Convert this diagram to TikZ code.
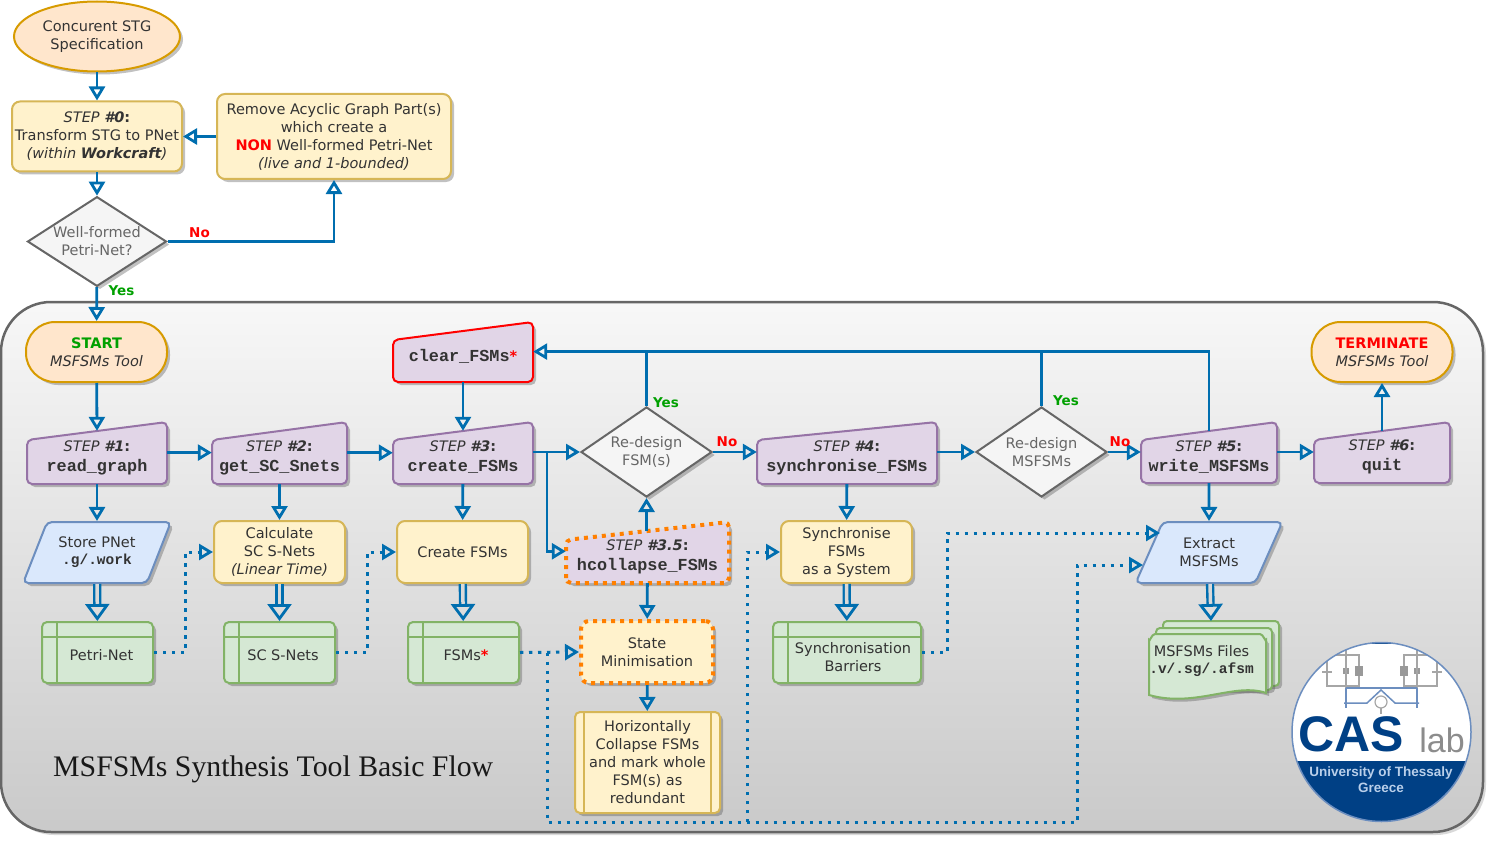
\documentclass[tikz,border=0pt]{standalone}
\usepackage{fontspec}
\setmainfont{DejaVu Sans}
\setmonofont{Liberation Mono}
\newfontfamily\titlefont{Liberation Serif}
\newfontfamily\logofont{Liberation Sans}
\usetikzlibrary{arrows.meta, shapes.geometric, shadows, calc}
\definecolor{flowblue}{HTML}{006EAF}
\definecolor{peachfill}{HTML}{FFE6CC}
\definecolor{peachline}{HTML}{D79B00}
\definecolor{sandfill}{HTML}{FFF2CC}
\definecolor{sandline}{HTML}{D6B656}
\definecolor{lilacfill}{HTML}{E1D5E7}
\definecolor{lilacline}{HTML}{9673A6}
\definecolor{skyfill}{HTML}{DAE8FC}
\definecolor{skyline}{HTML}{6C8EBF}
\definecolor{leaffill}{HTML}{D5E8D4}
\definecolor{leafline}{HTML}{82B366}
\definecolor{logoblue}{HTML}{004085}
\definecolor{yesgreen}{HTML}{00A000}
\definecolor{dotorange}{HTML}{FF8000}
\tikzset{
  softshadow/.style={drop shadow={shadow xshift=3pt, shadow yshift=-3pt, opacity=0.35, fill=black!70}},
  boxtext/.style={font=\fontsize{14.5}{18}\selectfont, text=black!80, align=center, inner sep=0pt},
  ovalbox/.style={boxtext, shape=ellipse, draw=peachline, fill=peachfill, line width=2pt, softshadow, minimum width=166pt, minimum height=70pt},
  pillbox/.style={boxtext, draw=peachline, fill=peachfill, line width=2pt, softshadow, rounded corners=29pt, minimum width=141pt, minimum height=60pt},
  sandbox/.style={boxtext, draw=sandline, fill=sandfill, line width=2pt, softshadow, rounded corners=8pt, minimum height=62pt},
  orangebox/.style={sandbox, draw=dotorange, line width=4pt, dash pattern=on 4pt off 5pt},
  choicebox/.style={boxtext, text=black!60, shape=diamond, draw=black!60, fill=black!4, line width=2pt, softshadow, minimum width=131pt, minimum height=90pt, aspect=1.45},
  filebox/.style={boxtext, draw=skyline, fill=skyfill, line width=2pt, softshadow, shape=trapezium, trapezium left angle=59, trapezium right angle=121, trapezium stretches=true, rounded corners=5pt, minimum width=148pt, minimum height=61pt},
  storebox/.style={draw=leafline, fill=leaffill, line width=2pt, softshadow, rounded corners=5pt, minimum height=61pt, inner sep=0pt,
    path picture={\draw[leafline, line width=2pt] ([xshift=15pt]path picture bounding box.north west) -- ([xshift=15pt]path picture bounding box.south west);
      \draw[leafline, line width=2pt] ([yshift=-15pt]path picture bounding box.north west) -- ([yshift=-15pt]path picture bounding box.north east);}},
  procbox/.style={sandbox, rounded corners=5pt, path picture={\draw[sandline, line width=2pt] ([xshift=9pt]path picture bounding box.north west) -- ([xshift=9pt]path picture bounding box.south west);
      \draw[sandline, line width=2pt] ([xshift=-9pt]path picture bounding box.north east) -- ([xshift=-9pt]path picture bounding box.south east);}},
  lilacshape/.style={draw=lilacline, fill=lilacfill, line width=2pt, softshadow, rounded corners=5pt},
  redshape/.style={lilacshape, draw=red},
  orangeshape/.style={lilacshape, draw=dotorange, line width=4pt, dash pattern=on 4pt off 5pt},
  flow/.style={draw=flowblue, line width=2.8pt, -{Triangle[open, length=14pt, width=16pt, line width=2.8pt]}},
  plainflow/.style={draw=flowblue, line width=2.8pt},
  dotflow/.style={flow, line width=3pt, dash pattern=on 3.4pt off 5.6pt},
  wideflow/.style={flow, double=white!85!black, double distance=3.5pt, line width=2.4pt, -{Triangle[open, length=17pt, width=24pt, line width=2.8pt]}},
  nolabel/.style={font=\fontsize{13.5}{16}\selectfont\bfseries, text=red, inner sep=0pt},
  yeslabel/.style={nolabel, text=yesgreen},
  logoline/.style={draw=black!35, line width=1.2pt},
  logowire/.style={draw=skyline, line width=1.5pt},
}
\newcommand{\tool}[1]{{\fontsize{16.8}{20}\selectfont\ttfamily\bfseries #1}}
\newcommand{\filename}[1]{{\fontsize{14.5}{16}\selectfont\ttfamily\bfseries #1}}
\newcommand{\stepname}[1]{\textit{STEP} \textbf{\textit{#1}:}}
\newcommand{\manualnode}[7][lilacshape]{%
  \draw[#1] (#3,#6) -- (#3,#4+18) -- (#5,#4) -- (#5,#6) -- cycle;
  \pgfmathsetmacro{\boxw}{#5-#3}
  \pgfmathsetmacro{\boxh}{#6-#4-9}
  \node[boxtext, minimum width=\boxw pt, minimum height=\boxh pt] (#2) at ({(#3+#5)/2},{(#4+9+#6)/2}) {#7};
}
\begin{document}
\begin{tikzpicture}[x=1pt, y=-1pt]
  \useasboundingbox (0,0) rectangle (1497,848);
  \draw[draw=black!60, line width=2.5pt, top color=black!3, bottom color=black!21, rounded corners=50pt, drop shadow={shadow xshift=3pt, shadow yshift=-3pt, opacity=0.3}] (1,302) rectangle (1483,832);

  \node[ovalbox] (stg) at (97,36.5) {Concurent STG\\Specification};
  \node[sandbox, minimum width=170pt, minimum height=70pt] (step0) at (97,136.5) {\stepname{\#0}\\Transform STG to PNet\\\textit{(within \textbf{Workcraft})}};
  \node[sandbox, minimum width=234pt, minimum height=85pt] (acyclic) at (334,136.5) {Remove Acyclic Graph Part(s)\\which create a\\\textbf{\textcolor{red}{NON}} Well-formed Petri-Net\\\textit{(live and 1-bounded)}};
  \node[choicebox, minimum width=139pt, minimum height=89pt] (wellformed) at (97,241.5) {Well-formed\\Petri-Net?};

  \node[pillbox] (start) at (96.5,352) {\textbf{\textcolor{yesgreen}{START}}\\\textit{MSFSMs Tool}};
  \node[pillbox] (term) at (1382,352) {\textbf{\textcolor{red}{TERMINATE}}\\\textit{MSFSMs Tool}};

  \manualnode{step1}{27}{422}{167}{484}{\stepname{\#1}\\[2pt]\tool{read\_graph}}
  \manualnode{step2}{212}{422}{347}{484}{\stepname{\#2}\\[2pt]\tool{get\_SC\_Snets}}
  \manualnode{step3}{393}{422}{533}{484}{\stepname{\#3}\\[2pt]\tool{create\_FSMs}}
  \manualnode[redshape]{clear}{393}{322}{533}{382}{\tool{clear\_FSMs}\textbf{\textcolor{red}{*}}}
  \manualnode[orangeshape]{hcollapse}{566}{522}{729}{583}{\stepname{\#3.5}\\[2pt]\tool{hcollapse\_FSMs}}
  \manualnode{step4}{757}{422}{937}{484}{\stepname{\#4}\\[2pt]\tool{synchronise\_FSMs}}
  \manualnode{step5}{1141}{422}{1277}{483}{\stepname{\#5}\\[2pt]\tool{write\_MSFSMs}}
  \manualnode{step6}{1314}{422}{1450}{483}{\stepname{\#6}\\[2pt]\tool{quit}}

  \node[choicebox] (redesignf) at (646.5,452) {Re-design\\FSM(s)};
  \node[choicebox] (redesignm) at (1041.5,452) {Re-design\\MSFSMs};

  \node[filebox] (store) at (97,552.5) {Store PNet\\[-1pt]\filename{.g/.work}};
  \node[filebox] (extract) at (1209,552.5) {Extract\\MSFSMs};
  \coordinate (extractup) at (1160,533);
  \coordinate (extractlow) at (1143,565);

  \node[sandbox, minimum width=131pt] (calc) at (279.5,552) {Calculate\\SC S-Nets\\\textit{(Linear Time)}};
  \node[sandbox, minimum width=131pt] (create) at (462.5,552) {Create FSMs};
  \node[sandbox, minimum width=131pt] (sync) at (846.5,552) {Synchronise\\FSMs\\as a System};
  \node[orangebox, minimum width=132pt] (statemin) at (647,652) {State\\Minimisation};
  \node[procbox, minimum width=145pt, minimum height=101pt] (horiz) at (647.5,762.5) {Horizontally\\Collapse FSMs\\and mark whole\\FSM(s) as\\redundant};

  \node[storebox, minimum width=111pt] (petri) at (97.5,652.5) {};
  \node[boxtext] (petritext) at (101.5,655) {Petri-Net};
  \node[storebox, minimum width=111pt] (scnets) at (279.5,652.5) {};
  \node[boxtext] (scnetstext) at (283,655) {SC S-Nets};
  \node[storebox, minimum width=111pt] (fsms) at (463.5,652.5) {};
  \node[boxtext] (fsmstext) at (466,655) {FSMs\textbf{\textcolor{red}{*}}};
  \node[storebox, minimum width=148pt] (barriers) at (847,652.5) {};
  \node[boxtext] (barrierstext) at (853,657) {Synchronisation\\Barriers};

  \draw[draw=leafline, fill=leaffill, line width=2pt, softshadow, rounded corners=4pt] (1163,683) -- (1163,621) -- (1279,621) -- (1279,686) -- cycle;
  \draw[draw=leafline, fill=leaffill, line width=2pt, softshadow, rounded corners=4pt] (1156,690) -- (1156,628) -- (1272,628) -- (1272,690) -- cycle;
  \draw[draw=leafline, fill=leaffill, line width=2pt, softshadow] (1149,695) -- (1149,640) to[out=-90,in=180] (1155,634) -- (1260,634) to[out=0,in=-90] (1266,640) -- (1266,693) .. controls (1235,682) and (1195,708) .. (1149,695) -- cycle;
  \node[boxtext, inner sep=0pt] (files) at (1201.5,661.5) {MSFSMs Files\\[-1pt]\filename{.v/.sg/.afsm}};
  \coordinate (filestop) at (1211,621);

  \draw[flow] (stg) -- (step0);
  \draw[flow] (step0) -- (wellformed);
  \draw[flow] (acyclic) -- (step0);
  \draw[flow] (wellformed.east) -| (acyclic.south);
  \draw[flow] (wellformed) -- (start);
  \draw[flow] (start) -- (step1.north);
  \draw[flow] (step1.4) -- (step1.4 -| step2.west);
  \draw[flow] (step2.4) -- (step2.4 -| step3.west);
  \draw[flow] (clear) -- (step3.north);
  \draw[flow] (step1) -- (store);
  \draw[flow] (step2) -- (calc);
  \draw[flow] (step3) -- (create);
  \draw[wideflow] (store) -- (petri);
  \draw[wideflow] (calc) -- (scnets);
  \draw[wideflow] (create) -- (fsms);
  \coordinate (splitf) at (547,452);
  \draw[flow] (redesignf.west -| step3.east) -- (redesignf.west);
  \draw[flow] (splitf) |- (hcollapse.176.5);
  \draw[flow] (hcollapse.north -| redesignf) -- (redesignf.south);
  \draw[flow] (hcollapse) -- (statemin);
  \draw[flow] (statemin) -- (horiz);
  \draw[flow] (redesignf.east) -- (redesignf.east -| step4.west);
  \draw[flow] (redesignm.west -| step4.east) -- (redesignm.west);
  \draw[flow] (redesignm.east) -- (redesignm.east -| step5.west);
  \draw[flow] (redesignm.east -| step5.east) -- (redesignm.east -| step6.west);
  \draw[flow] (step6.north) -- (term);
  \draw[flow] (step4) -- (sync);
  \draw[wideflow] (sync) -- (barriers);
  \draw[flow] (step5) -- (extract.north);
  \draw[wideflow] ([xshift=1pt]extract.south) -- (filestop);
  \draw[flow] (step5.north) |- (clear.4);
  \draw[plainflow] (redesignf.north) -- ++(0,-55);
  \draw[plainflow] (redesignm.north) -- ++(0,-55);

  \draw[dotflow] (petri.east) -- ++(31,0) |- (calc.west);
  \draw[dotflow] (scnets.east) -- ++(31,0) |- (create.west);
  \draw[dotflow] (fsms.east) -- (statemin.west);
  \draw[dotflow] (barriers.east) -- ++(25,0) |- (extractup);
  \draw[dotflow] (547,652.5) -- (547,822) -- (1077,822) |- (extractlow);
  \draw[dotflow] (747,822) |- (sync.west);

  \node[nolabel] (nowf) at (199.5,232.5) {No};
  \node[yeslabel] (yeswf) at (121.5,291) {Yes};
  \node[yeslabel] (yesf) at (666,403) {Yes};
  \node[nolabel] (nof) at (727,442) {No};
  \node[yeslabel] (yesm) at (1066,401) {Yes};
  \node[nolabel] (nom) at (1120,442) {No};

  \node[font=\titlefont\fontsize{29.8}{36}\selectfont, text=black!90, anchor=west, inner sep=0pt] (title) at (53,769) {MSFSMs Synthesis Tool Basic Flow};

  \coordinate (logo) at (1381.5,732);
  \begin{scope}
    \clip (logo) circle (89.5);
    \fill[white] (logo) circle (89.5);
    \fill[logoblue] (1285,761) rectangle (1480,830);
    \draw[logoblue, line width=2.5pt] (1350,643) -- (1413,643);
    \draw[logoline] (1359,655) -- (1327,655) -- (1327,686) -- (1359,686) -- cycle;
    \draw[logoline] (1404,655) -- (1437,655) -- (1437,686) -- (1404,686) -- cycle;
    \draw[logoline] (1322,672) -- (1332,672) (1432,672) -- (1442,672);
    \fill[black!40] (1355,666) rectangle (1363,676);
    \fill[black!40] (1400,666) rectangle (1408,676);
    \fill[black!40] (1343,668) rectangle (1349,674);
    \fill[black!40] (1414,668) rectangle (1420,674);
    \draw[logoline] (1346,648) -- (1346,688) (1417,648) -- (1417,688);
    \draw[logowire] (1346,688) -- (1417,688) (1346,688) -- (1346,708) (1417,688) -- (1417,708);
    \draw[logowire] (1344,703) -- (1367,703) -- (1381,690) -- (1395,703) -- (1419,703);
    \draw[logoline, fill=white] (1381,702) circle (6);
    \draw[logoline] (1381,708) -- (1381,714);
  \end{scope}
  \draw[skyline, line width=1.5pt] (logo) circle (89.5);
  \node[font=\logofont\bfseries\fontsize{50}{50}\selectfont, text=logoblue, inner sep=0pt] (cas) at (1351,734) {CAS};
  \node[font=\logofont\fontsize{34}{34}\selectfont, text=black!45, inner sep=0pt] (lab) at (1442,740) {lab};
  \node[font=\logofont\bfseries\fontsize{13.5}{16}\selectfont, text=skyfill!85!logoblue, align=center, inner sep=0pt] (uni) at (1381,780) {University of Thessaly\\Greece};
\end{tikzpicture}
\end{document}
